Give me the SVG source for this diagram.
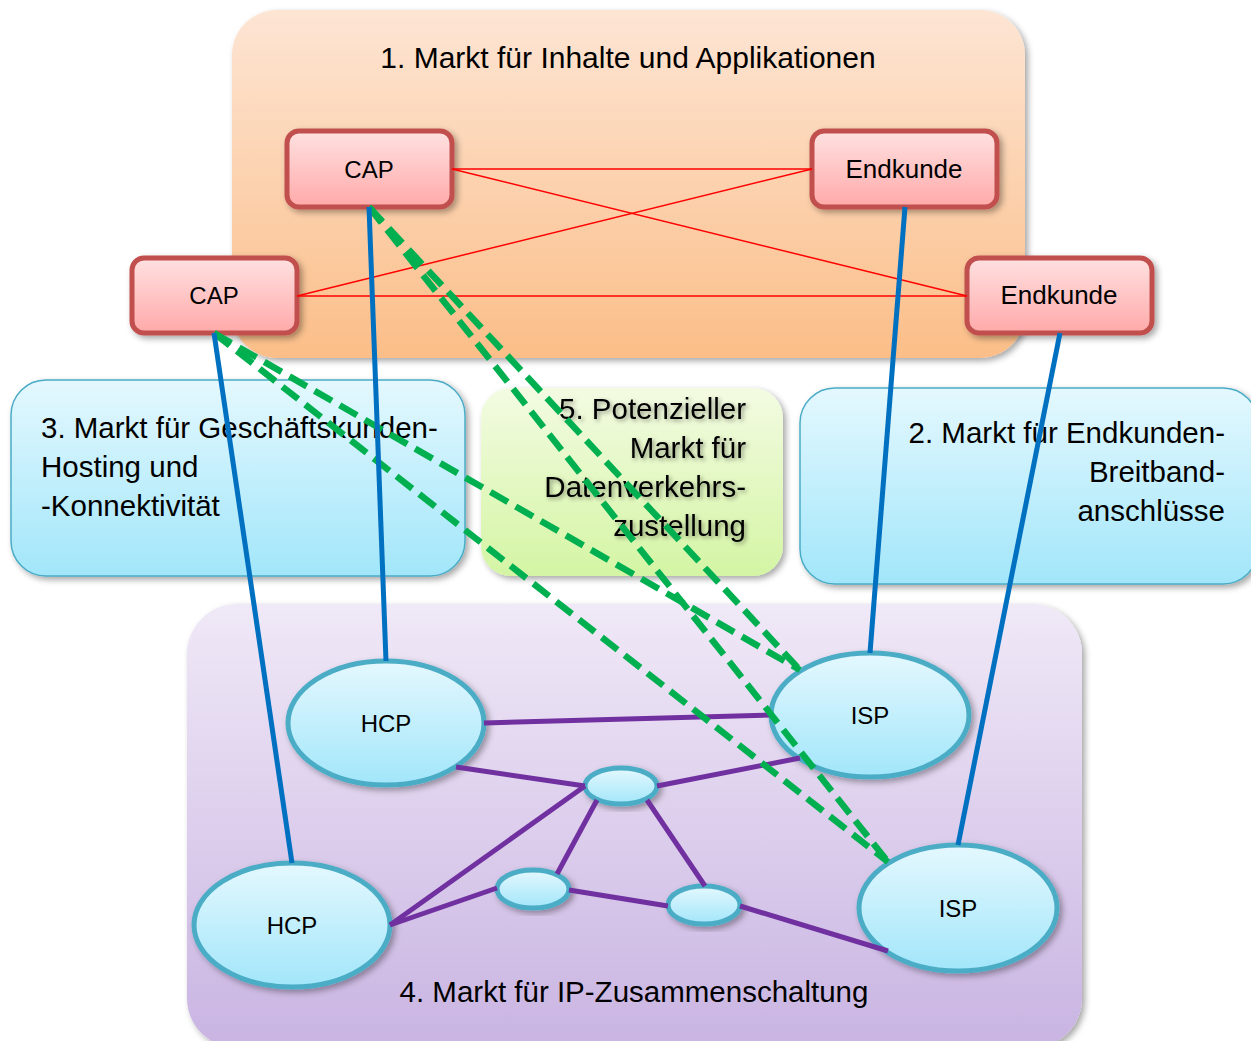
<svg xmlns="http://www.w3.org/2000/svg" width="1251" height="1041" viewBox="0 0 1251 1041">
<style>
text{font-family:"Liberation Sans",Arial,sans-serif;fill:#000}
.mk{font-size:29.5px}
.nd{font-size:24px;text-anchor:middle}
.ek{font-size:26px;text-anchor:middle}
.box{stroke:#c0504d;stroke-width:5}
.ell{fill:url(#gBlue);stroke:#4bacc6;stroke-width:5}
.red{stroke:#ff0000;stroke-width:1.5;fill:none}
.pur{stroke:#7030a0;stroke-width:5;fill:none}
.blu{stroke:#0070c0;stroke-width:5;fill:none}
.grn{stroke:#00b050;stroke-width:6.5;fill:none;stroke-dasharray:20 9}
</style>
<defs>
<linearGradient id="gOrange" x1="0" y1="0" x2="0" y2="1"><stop offset="0" stop-color="#fde5d4"/><stop offset="1" stop-color="#fbbe88"/></linearGradient>
<linearGradient id="gBlue" x1="0" y1="0" x2="0" y2="1"><stop offset="0" stop-color="#e4f8fe"/><stop offset="1" stop-color="#a2e6fa"/></linearGradient>
<linearGradient id="gGreen" x1="0" y1="0" x2="0" y2="1"><stop offset="0" stop-color="#f3fbe2"/><stop offset="1" stop-color="#d4f5a4"/></linearGradient>
<linearGradient id="gPurple" x1="0" y1="0" x2="0" y2="1"><stop offset="0" stop-color="#f0e9f7"/><stop offset="1" stop-color="#c9b4e2"/></linearGradient>
<linearGradient id="gPink" x1="0" y1="0" x2="0" y2="1"><stop offset="0" stop-color="#ffe1e1"/><stop offset="1" stop-color="#ffa9a9"/></linearGradient>
<filter id="sh" x="-10%" y="-10%" width="130%" height="130%"><feDropShadow dx="3" dy="3" stdDeviation="3" flood-color="#000" flood-opacity="0.35"/></filter>
<filter id="tsh" x="-10%" y="-10%" width="130%" height="130%"><feDropShadow dx="2" dy="2" stdDeviation="2" flood-color="#000" flood-opacity="0.4"/></filter>
</defs>

<g id="market1">
<rect x="232" y="10" width="793" height="348" rx="45" fill="url(#gOrange)" filter="url(#sh)"/>
<text x="628" y="68" text-anchor="middle" font-size="30">1. Markt für Inhalte und Applikationen</text>
</g>
<g id="market3">
<rect x="11" y="380" width="454" height="196" rx="35" fill="url(#gBlue)" stroke="#4bacc6" stroke-width="1.5" filter="url(#sh)"/>
<text class="mk" x="41" y="438">3. Markt für Geschäftskunden-</text>
<text class="mk" x="41" y="477">Hosting und</text>
<text class="mk" x="41" y="516">-Konnektivität</text>
</g>
<g id="market5">
<rect x="481" y="388" width="302" height="188" rx="30" fill="url(#gGreen)" filter="url(#sh)"/>
<g filter="url(#tsh)" text-anchor="end">
<text class="mk" x="746" y="419">5. Potenzieller</text>
<text class="mk" x="746" y="458">Markt für</text>
<text class="mk" x="746" y="497">Datenverkehrs-</text>
<text class="mk" x="746" y="536">zustellung</text>
</g>
</g>
<g id="market2">
<rect x="800" y="388" width="458" height="196" rx="35" fill="url(#gBlue)" stroke="#4bacc6" stroke-width="1.5" filter="url(#sh)"/>
<text class="mk" x="1225" y="443" text-anchor="end">2. Markt für Endkunden-</text>
<text class="mk" x="1225" y="482" text-anchor="end">Breitband-</text>
<text class="mk" x="1225" y="521" text-anchor="end">anschlüsse</text>
</g>
<g id="market4">
<rect x="187" y="604" width="895" height="444" rx="50" fill="url(#gPurple)" filter="url(#sh)"/>
<text class="mk" x="634" y="1002" text-anchor="middle">4. Markt für IP-Zusammenschaltung</text>
</g>

<g id="cap1"><rect class="box" x="287" y="131" width="165" height="76" rx="12" fill="url(#gPink)" filter="url(#sh)"/><text class="nd" x="369" y="178">CAP</text></g>
<g id="cap2"><rect class="box" x="132" y="258" width="165" height="75" rx="12" fill="url(#gPink)" filter="url(#sh)"/><text class="nd" x="214" y="304">CAP</text></g>
<g id="endkunde1"><rect class="box" x="812" y="131" width="185" height="76" rx="12" fill="url(#gPink)" filter="url(#sh)"/><text class="ek" x="904" y="178">Endkunde</text></g>
<g id="endkunde2"><rect class="box" x="967" y="258" width="185" height="75" rx="12" fill="url(#gPink)" filter="url(#sh)"/><text class="ek" x="1059" y="304">Endkunde</text></g>

<g id="hcp1"><ellipse class="ell" cx="386" cy="723" rx="98" ry="62" filter="url(#sh)"/><text class="nd" x="386" y="732">HCP</text></g>
<g id="hcp2"><ellipse class="ell" cx="292" cy="925" rx="98" ry="62" filter="url(#sh)"/><text class="nd" x="292" y="934">HCP</text></g>
<g id="isp1"><ellipse class="ell" cx="870" cy="715" rx="99" ry="62" filter="url(#sh)"/><text class="nd" x="870" y="724">ISP</text></g>
<g id="isp2"><ellipse class="ell" cx="958" cy="908" rx="99" ry="63" filter="url(#sh)"/><text class="nd" x="958" y="917">ISP</text></g>
<g id="router1"><ellipse class="ell" cx="621" cy="786" rx="36" ry="18" filter="url(#sh)"/></g>
<g id="router2"><ellipse class="ell" cx="533" cy="889" rx="36" ry="19" filter="url(#sh)"/></g>
<g id="router3"><ellipse class="ell" cx="704" cy="905" rx="36" ry="19" filter="url(#sh)"/></g>

<g id="connectors">
<line class="red" x1="452" y1="169" x2="812" y2="169"/>
<line class="red" x1="452" y1="169" x2="967" y2="296"/>
<line class="red" x1="297" y1="296" x2="812" y2="169"/>
<line class="red" x1="297" y1="296" x2="967" y2="296"/>

<line class="pur" x1="484" y1="723" x2="771" y2="715"/>
<line class="pur" x1="456" y1="767" x2="585" y2="786"/>
<line class="pur" x1="657" y1="786" x2="800" y2="758"/>
<line class="pur" x1="390" y1="925" x2="585" y2="786"/>
<line class="pur" x1="390" y1="925" x2="497" y2="888"/>
<line class="pur" x1="597" y1="800" x2="557" y2="874"/>
<line class="pur" x1="647" y1="800" x2="705" y2="886"/>
<line class="pur" x1="569" y1="890" x2="668" y2="906"/>
<line class="pur" x1="740" y1="906" x2="888" y2="951"/>

<line class="grn" x1="369" y1="207" x2="800" y2="670"/>
<line class="grn" x1="369" y1="207" x2="888" y2="862"/>
<line class="grn" x1="214" y1="333" x2="800" y2="670"/>
<line class="grn" x1="214" y1="333" x2="888" y2="862"/>

<line class="blu" x1="369" y1="207" x2="386" y2="661"/>
<line class="blu" x1="214" y1="333" x2="292" y2="863"/>
<line class="blu" x1="905" y1="207" x2="870" y2="653"/>
<line class="blu" x1="1060" y1="333" x2="958" y2="845"/>
</g>
</svg>
